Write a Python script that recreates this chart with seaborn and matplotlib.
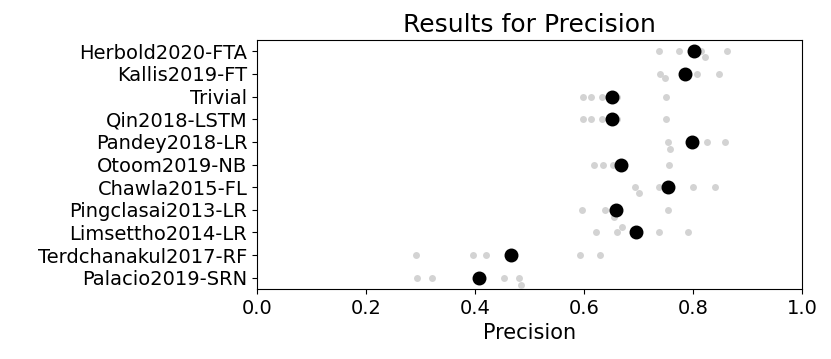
import pandas as pd
import matplotlib
matplotlib.use('Agg')
import matplotlib.pyplot as plt
import seaborn as sns

# Models in plotting order (top to bottom)
models = ['Herbold2020-FTA', 'Kallis2019-FT', 'Trivial', 'Qin2018-LSTM', 'Pandey2018-LR',
          'Otoom2019-NB', 'Chawla2015-FL', 'Pingclasai2013-LR', 'Limsettho2014-LR',
          'Terdchanakul2017-RF', 'Palacio2019-SRN']

# Precision per run (5 runs each)
herbold = [0.738, 0.774, 0.814, 0.822, 0.862]
kallis = [0.739, 0.749, 0.781, 0.808, 0.848]
trivial = [0.598, 0.613, 0.633, 0.661, 0.750]
qin = [0.598, 0.613, 0.633, 0.661, 0.750]
pandey = [0.754, 0.758, 0.793, 0.826, 0.859]
otoom = [0.618, 0.635, 0.653, 0.673, 0.756]
chawla = [0.693, 0.701, 0.737, 0.800, 0.840]
pingclasai = [0.597, 0.638, 0.651, 0.655, 0.754]
limsettho = [0.622, 0.660, 0.669, 0.738, 0.791]
terdchanakul = [0.292, 0.397, 0.420, 0.593, 0.630]
palacio = [0.294, 0.321, 0.453, 0.481, 0.484]

runs = [herbold, kallis, trivial, qin, pandey, otoom, chawla,
        pingclasai, limsettho, terdchanakul, palacio]

rows = []
for name, vals in zip(models, runs):
    for v in vals:
        rows.append({'model': name, 'precision': v})
data = pd.DataFrame(rows)

fig, ax = plt.subplots(figsize=(8.31, 3.59), dpi=100)
sns.swarmplot(data=data, x='precision', y='model', order=models,
              color='lightgray', size=5, ax=ax)
sns.pointplot(data=data, x='precision', y='model', order=models,
              color='black', linestyle='none', errorbar=None,
              markersize=8, ax=ax)
# keep the mean markers above the individual runs
for line in ax.lines:
    line.set_zorder(5)

ax.set_xlim(0, 1)
ax.set_title('Results for Precision', fontsize=18)
ax.set_xlabel('Precision', fontsize=15)
ax.set_ylabel('')
ax.tick_params(axis='both', labelsize=14)

fig.subplots_adjust(left=257/831, right=802/831, top=1-40/359, bottom=1-289/359)
fig.savefig('out.png', dpi=100)
